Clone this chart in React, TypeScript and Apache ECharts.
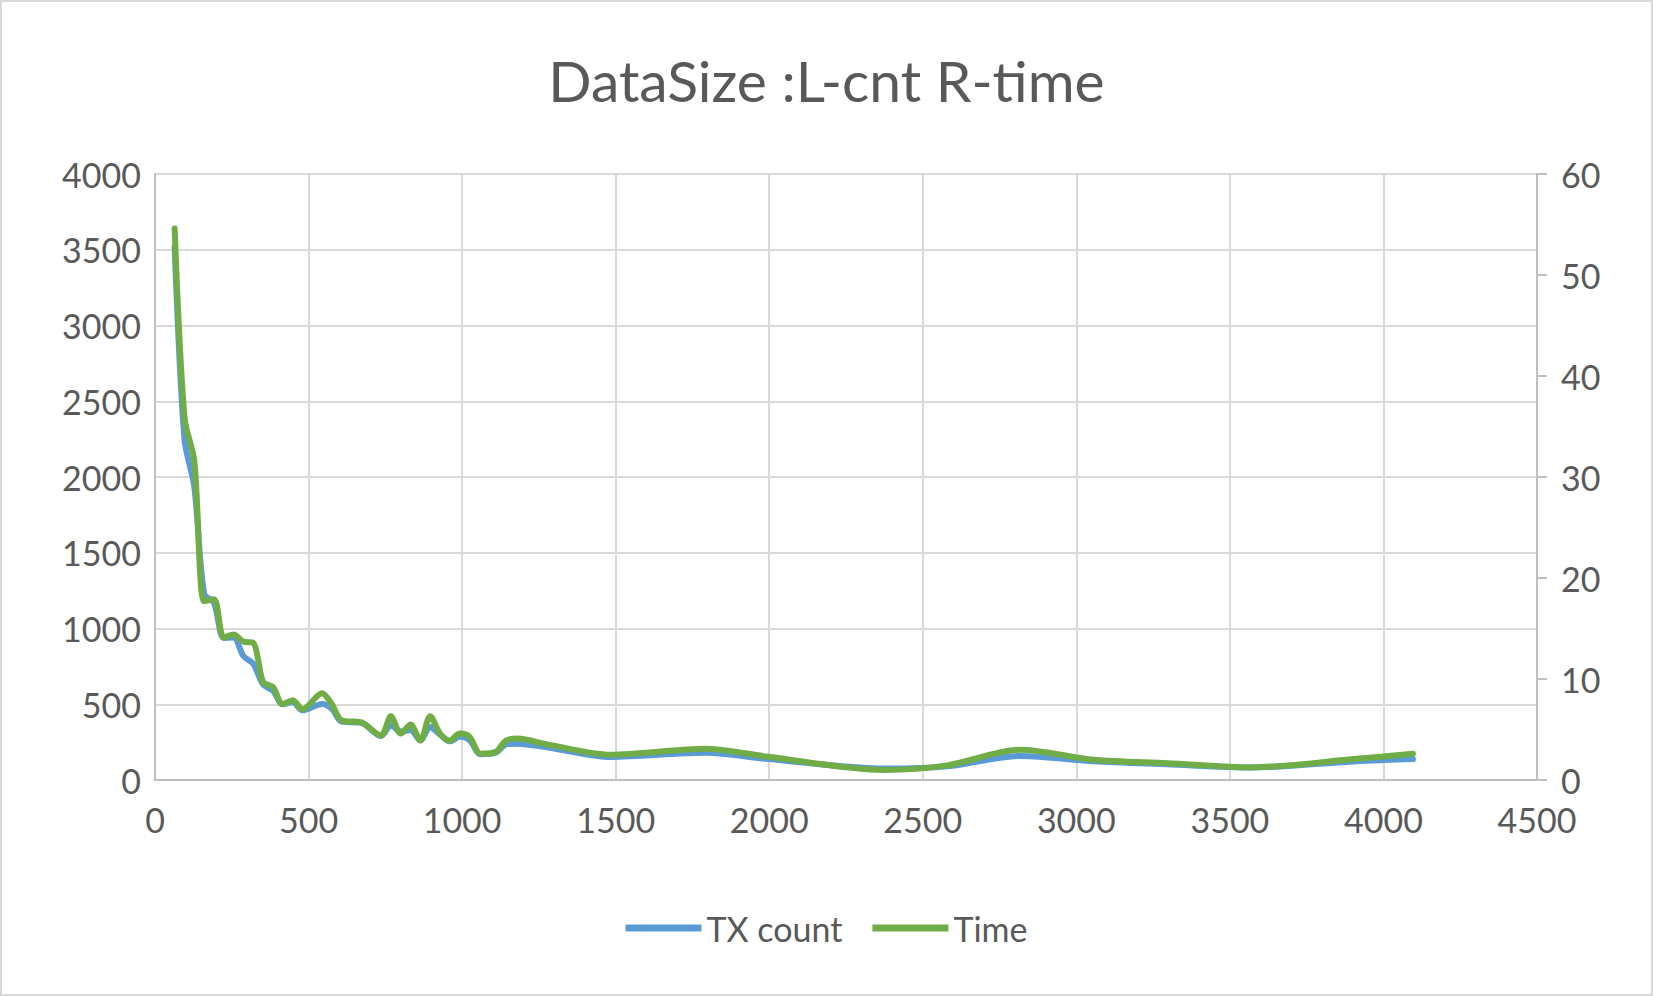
import React, { useEffect, useRef } from "react";
import * as echarts from "echarts";

const dataSize = [64, 96, 128, 160, 192, 224, 256, 288, 320, 352, 384, 416, 448, 480, 544, 576, 608, 672, 736, 768, 800, 832, 864, 896, 928, 960, 992, 1024, 1060, 1110, 1143, 1180, 1280, 1484, 1792, 1997, 2373, 2580, 2818, 3057, 3297, 3570, 3912, 4096];
const txCount = [3522, 2249, 1935, 1230, 1170, 938, 940, 818, 767, 630, 590, 500, 515, 460, 502, 470, 385, 378, 290, 360, 320, 330, 262, 350, 300, 255, 285, 265, 170, 180, 235, 240, 215, 152, 180, 138, 76, 90, 159, 124, 104, 83, 124, 138];
const timeVals = [54.6, 35.9, 31.6, 17.7, 17.9, 14.1, 14.4, 13.7, 13.6, 9.7, 9.2, 7.5, 7.9, 7.0, 8.6, 7.5, 5.9, 5.7, 4.4, 6.3, 4.6, 5.5, 3.9, 6.3, 4.6, 3.9, 4.6, 4.3, 2.6, 2.8, 3.9, 4.1, 3.5, 2.5, 3.1, 2.3, 1.0, 1.45, 3.0, 2.0, 1.66, 1.25, 2.1, 2.6];

const FONT = "Lato, 'Open Sans', sans-serif";
const TXT = "#595959";

export default function App() {
  const ref = useRef<HTMLDivElement>(null);
  useEffect(() => {
    document.body.style.margin = "0";
    const chart = echarts.init(ref.current!, null, { renderer: "svg" });
    const axisLabel = { color: TXT, fontSize: 34, fontFamily: FONT, formatter: (v: number) => String(v) };
    chart.setOption({
      animation: false,
      backgroundColor: "#fff",
      title: {
        text: "DataSize :L-cnt R-time",
        left: "center",
        top: 44,
        textStyle: { color: TXT, fontSize: 57, fontWeight: "normal", fontFamily: FONT },
      },
      legend: {
        bottom: 44,
        left: "center",
        itemWidth: 76,
        itemHeight: 7,
        itemGap: 30,
        textStyle: { color: TXT, fontSize: 34, fontFamily: FONT },
        data: [
          { name: "TX count", icon: "rect" },
          { name: "Time", icon: "rect" },
        ],
      },
      grid: { left: 153, right: 114, top: 172, bottom: 214 },
      xAxis: {
        type: "value",
        min: 0,
        max: 4500,
        interval: 500,
        axisLine: { show: true, onZero: false, lineStyle: { color: "#bfbfbf", width: 2 } },
        axisTick: { show: false },
        splitLine: { show: true, lineStyle: { color: "#d9d9d9", width: 2 } },
        axisLabel: { ...axisLabel, margin: 22 },
      },
      yAxis: [
        {
          type: "value",
          min: 0,
          max: 4000,
          interval: 500,
          axisLine: { show: true, lineStyle: { color: "#bfbfbf", width: 2 } },
          axisTick: { show: false },
          splitLine: { show: true, lineStyle: { color: "#d9d9d9", width: 2 } },
          axisLabel: { ...axisLabel, margin: 14 },
        },
        {
          type: "value",
          min: 0,
          max: 60,
          interval: 10,
          position: "right",
          axisLine: { show: true, lineStyle: { color: "#bfbfbf", width: 2 } },
          axisTick: { show: true, length: 10, lineStyle: { color: "#bfbfbf", width: 2 } },
          splitLine: { show: false },
          axisLabel: { ...axisLabel, margin: 24 },
        },
      ],
      series: [
        {
          name: "TX count",
          type: "line",
          yAxisIndex: 0,
          smooth: 0.3,
          symbol: "none",
          data: dataSize.map((x, i) => [x, txCount[i]]),
          lineStyle: { color: "#5b9bd5", width: 6, cap: "round" },
          itemStyle: { color: "#5b9bd5" },
        },
        {
          name: "Time",
          type: "line",
          yAxisIndex: 1,
          smooth: 0.3,
          symbol: "none",
          data: dataSize.map((x, i) => [x, timeVals[i]]),
          lineStyle: { color: "#70ad47", width: 6, cap: "round" },
          itemStyle: { color: "#70ad47" },
        },
      ],
    });
    return () => chart.dispose();
  }, []);
  return (
    <div style={{ width: 1653, height: 996, boxSizing: "border-box", border: "2px solid #d9d9d9", background: "#fff" }}>
      <div ref={ref} style={{ width: 1649, height: 992 }} />
    </div>
  );
}
